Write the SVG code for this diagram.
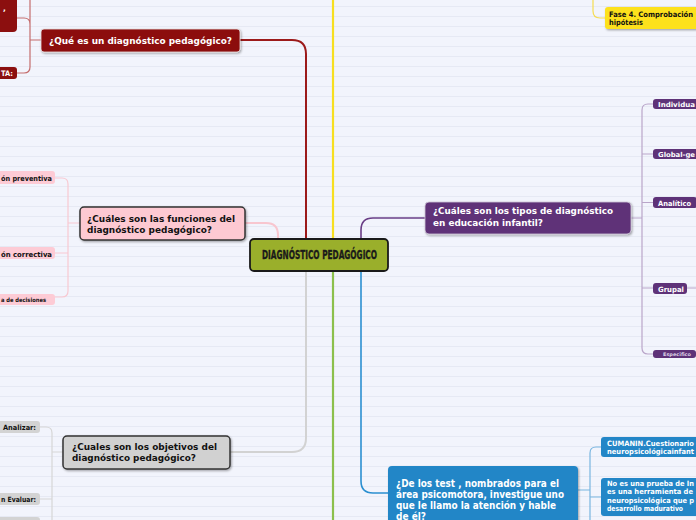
<svg xmlns="http://www.w3.org/2000/svg" width="696" height="520" viewBox="0 0 696 520">
<defs>
<pattern id="bg" x="0" y="0" width="696" height="10" patternUnits="userSpaceOnUse">
<rect width="696" height="10" fill="#f2f4fc"/>
<line x1="0" y1="6.5" x2="696" y2="6.5" stroke="#e6e9f4" stroke-width="1"/>
</pattern>
<filter id="sh" x="-10%" y="-20%" width="130%" height="160%">
<feDropShadow dx="1" dy="1.2" stdDeviation="0.9" flood-color="#000" flood-opacity="0.35"/>
</filter>
</defs>
<style>
.t{font-family:"DejaVu Sans","Verdana",sans-serif;font-weight:bold;}
.w{fill:#ffffff;}
.k{fill:#111111;}
</style>
<rect width="696" height="520" fill="url(#bg)"/>
<g id="connectors" fill="none">
<path d="M333,0 V239" stroke="#f7df1f" stroke-width="2.2"/>
<path d="M333,271 V520" stroke="#8cc04c" stroke-width="2.2"/>
<path d="M240,40 H292 Q306,40 306,54 V239" stroke="#9c1a1a" stroke-width="2"/>
<path d="M306,271 V438 Q306,452 292,452 H230" stroke="#d2d2d2" stroke-width="2"/>
<path d="M245,223 H266 Q278,223 278,235 V240" stroke="#f8c6cf" stroke-width="2"/>
<path d="M361,239 V230 Q361,218 373,218 H425" stroke="#6a3e86" stroke-width="1.6"/>
<path d="M361,271 V481 Q361,493 373,493 H388" stroke="#2b8fd0" stroke-width="1.6"/>
<path d="M593,0 V11 Q593,18 600,18 H605" stroke="#f6dc50" stroke-width="1.2"/>
<path d="M41,40 H30 M30,0 V67 Q30,73 24,73 H17 M17,18 H24 Q30,18 30,24" stroke="#c46c6c" stroke-width="1.2"/>
<path d="M80,223 H68 M55,178 H62 Q68,178 68,184 V291 Q68,297 62,297 H55 M55,253 H68" stroke="#f8c8d1" stroke-width="1.2"/>
<path d="M63,452 H52 M40,427 H46 Q52,427 52,433 V520 M40,499 H52" stroke="#d6d6d6" stroke-width="1.2"/>
<path d="M631,218 H642 M653,104 H648 Q642,104 642,110 V348 Q642,354 648,354 H653 M642,154 H653 M642,202.5 H653 M642,288 H653 M687,288 H696" stroke="#b9a5c9" stroke-width="1.2"/>
<path d="M578,490 H590 M601,447 H596 Q590,447 590,453 V520 M590,497 H601" stroke="#78b5e0" stroke-width="1.2"/>
</g>
<g id="n-red-top"><rect x="-5" y="-10" width="22" height="42" rx="4" fill="#8c0f0f"/><text class="t w" x="3" y="11" font-size="7.5">,</text></g>
<g id="n-red-ta"><rect x="-5" y="67" width="22" height="12" rx="3" fill="#8c0f0f"/><text class="t w" x="1" y="76" font-size="7.5" textLength="12" lengthAdjust="spacingAndGlyphs">TA:</text></g>
<g id="n-red"><rect x="41" y="29" width="199" height="23" rx="3" fill="#8c0f0f" stroke="#e8e0e0" stroke-width="0.8" filter="url(#sh)"/><text class="t w" x="49" y="44" font-size="9" textLength="183" lengthAdjust="spacingAndGlyphs">¿Qué es un diagnóstico pedagógico?</text></g>
<g id="n-pink-1"><rect x="-5" y="171" width="60" height="13" rx="3" fill="#fdcbd5"/><text class="t k" x="1" y="180.5" font-size="7.2" textLength="51" lengthAdjust="spacingAndGlyphs">ón preventiva</text></g>
<g id="n-pink-2"><rect x="-5" y="247" width="60" height="12" rx="3" fill="#fdcbd5"/><text class="t k" x="1" y="256.5" font-size="7.2" textLength="51" lengthAdjust="spacingAndGlyphs">ón correctiva</text></g>
<g id="n-pink-3"><rect x="-5" y="294" width="60" height="11" rx="3" fill="#fdcbd5"/><text class="t k" x="1" y="301.8" font-size="5.8" textLength="45" lengthAdjust="spacingAndGlyphs">a de decisiones</text></g>
<g id="n-pink"><rect x="80" y="207" width="165" height="33" rx="4" fill="#fdc9d2" stroke="#333333" stroke-width="1.5" filter="url(#sh)"/><text class="t k" font-size="9.2"><tspan x="87" y="222" textLength="148" lengthAdjust="spacingAndGlyphs">¿Cuáles son las funciones del</tspan><tspan x="87" y="233" textLength="125" lengthAdjust="spacingAndGlyphs">diagnóstico pedagógico?</tspan></text></g>
<g id="n-gray-1"><rect x="-5" y="421" width="45" height="12" rx="3" fill="#d3d3d3"/><text class="t k" x="3" y="430" font-size="7.2" textLength="33" lengthAdjust="spacingAndGlyphs">Analizar:</text></g>
<g id="n-gray-2"><rect x="-5" y="493" width="45" height="12" rx="3" fill="#d3d3d3"/><text class="t k" x="1" y="502" font-size="7.2" textLength="35" lengthAdjust="spacingAndGlyphs">n Evaluar:</text></g>
<g id="n-gray-3"><rect x="-5" y="517" width="45" height="12" rx="3" fill="#d3d3d3"/></g>
<g id="n-gray"><rect x="63" y="436" width="167" height="33" rx="4" fill="#d1d1d1" stroke="#333333" stroke-width="1.5" filter="url(#sh)"/><text class="t k" font-size="9.2"><tspan x="72" y="450" textLength="145" lengthAdjust="spacingAndGlyphs">¿Cuales son los objetivos del</tspan><tspan x="72" y="461" textLength="124" lengthAdjust="spacingAndGlyphs">diagnóstico pedagógico?</tspan></text></g>
<g id="n-yellow"><rect x="605" y="7" width="100" height="22" rx="3" fill="#fde11e" filter="url(#sh)"/><text class="t k" font-size="7.5"><tspan x="609" y="16.5" textLength="84" lengthAdjust="spacingAndGlyphs">Fase 4. Comprobación</tspan><tspan x="609" y="25" textLength="34" lengthAdjust="spacingAndGlyphs">hipótesis</tspan></text></g>
<g id="n-purple"><rect x="425" y="202" width="206" height="32" rx="4" fill="#5e3278" stroke="#d0c8d8" stroke-width="0.8" filter="url(#sh)"/><text class="t w" font-size="9.2"><tspan x="433" y="214" textLength="180" lengthAdjust="spacingAndGlyphs">¿Cuáles son los tipos de diagnóstico</tspan><tspan x="433" y="226" textLength="110" lengthAdjust="spacingAndGlyphs">en educación infantil?</tspan></text></g>
<g id="n-p1"><rect x="653" y="99" width="50" height="10" rx="3" fill="#5e3278"/><text class="t w" x="658" y="106.7" font-size="6.8" textLength="37" lengthAdjust="spacingAndGlyphs">Individua</text></g>
<g id="n-p2"><rect x="653" y="149" width="50" height="10" rx="3" fill="#5e3278"/><text class="t w" x="658" y="156.7" font-size="6.8" textLength="37" lengthAdjust="spacingAndGlyphs">Global-ge</text></g>
<g id="n-p3"><rect x="653" y="197" width="44" height="11" rx="3" fill="#5e3278"/><text class="t w" x="658" y="205.5" font-size="7.2" textLength="33" lengthAdjust="spacingAndGlyphs">Analítico</text></g>
<g id="n-p4"><rect x="653" y="283" width="34" height="11" rx="3" fill="#5e3278"/><text class="t w" x="658" y="291.5" font-size="7.2" textLength="26" lengthAdjust="spacingAndGlyphs">Grupal</text></g>
<g id="n-p5"><rect x="653" y="350" width="43" height="8" rx="3" fill="#5e3278"/><text class="t" x="663" y="356" font-size="4.8" fill="#dcd0e6" textLength="28" lengthAdjust="spacingAndGlyphs">Especifico</text></g>
<g id="n-blue"><rect x="388" y="466" width="190" height="62" rx="4" fill="#2386c7" filter="url(#sh)"/><text class="t w" font-size="9.8"><tspan x="396" y="487" textLength="163" lengthAdjust="spacingAndGlyphs">¿De los test , nombrados para el</tspan><tspan x="396" y="498" textLength="168" lengthAdjust="spacingAndGlyphs">área psicomotora, investigue uno</tspan><tspan x="396" y="509" textLength="160" lengthAdjust="spacingAndGlyphs">que le llamo la atención y hable</tspan><tspan x="396" y="519.5" textLength="30" lengthAdjust="spacingAndGlyphs">de él?</tspan></text></g>
<g id="n-b1"><rect x="601" y="437" width="100" height="20" rx="3" fill="#2386c7"/><text class="t w" font-size="7.3"><tspan x="607" y="445.5" textLength="87" lengthAdjust="spacingAndGlyphs">CUMANIN.Cuestionario</tspan><tspan x="607" y="453.5" textLength="87" lengthAdjust="spacingAndGlyphs">neuropsicológicainfant</tspan></text></g>
<g id="n-b2"><rect x="601" y="478" width="100" height="38" rx="3" fill="#2386c7"/><text class="t w" font-size="7.3"><tspan x="607" y="485.5" textLength="87" lengthAdjust="spacingAndGlyphs">No es una prueba de In</tspan><tspan x="607" y="494" textLength="86" lengthAdjust="spacingAndGlyphs">es una herramienta de</tspan><tspan x="607" y="502.5" textLength="87" lengthAdjust="spacingAndGlyphs">neuropsicológica que p</tspan><tspan x="607" y="511" textLength="76" lengthAdjust="spacingAndGlyphs">desarrollo madurativo</tspan></text></g>
<g id="n-center"><rect x="250" y="239" width="138" height="32" rx="4" fill="#9aaf2b" stroke="#1a1a1a" stroke-width="1.8"/><text x="262" y="259" font-family="'DejaVu Sans Condensed','DejaVu Sans',sans-serif" font-weight="bold" font-size="12" fill="#1a1a1a" stroke="#1a1a1a" stroke-width="0.35" textLength="115" lengthAdjust="spacingAndGlyphs">DIAGNÓSTICO PEDAGÓGICO</text></g>
</svg>
